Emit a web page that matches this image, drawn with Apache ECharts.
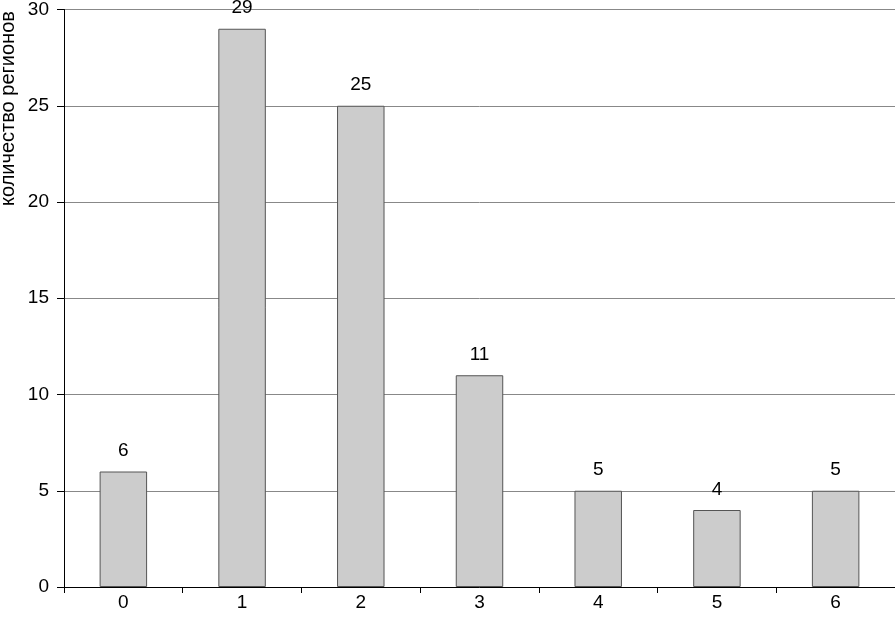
<!DOCTYPE html>
<html><head><meta charset="utf-8">
<script src="https://cdn.jsdelivr.net/npm/echarts@6/dist/echarts.min.js"></script>
<style>html,body{margin:0;padding:0;background:#fff}#c{width:895px;height:617px}</style>
</head><body><div id="c"></div>
<script>
const categories = ['0','1','2','3','4','5','6'];
const values = [6, 29, 25, 11, 5, 4, 5];
const yTitle = 'количество регионов';

const chart = echarts.init(document.getElementById('c'), null, {renderer:'canvas'});
const font = 'Liberation Sans, Arial, sans-serif';
chart.setOption({
  animation:false,
  grid:{left:64, right:0, top:9, bottom:30, containLabel:false},
  xAxis:{type:'category', data:categories,
    axisLine:{lineStyle:{color:'#000', width:1}},
    axisTick:{show:true, inside:false, length:6, lineStyle:{color:'#000'}},
    axisLabel:{color:'#000', fontSize:19, fontFamily:font, margin:6},
    splitLine:{show:false}},
  yAxis:{type:'value', min:0, max:30, interval:5,
    axisLine:{show:true, lineStyle:{color:'#000', width:1}},
    axisTick:{show:true, length:7, lineStyle:{color:'#000'}},
    axisLabel:{color:'#000', fontSize:19, fontFamily:font, margin:15},
    splitLine:{show:true, lineStyle:{color:'#888', width:1}}},
  graphic:[{type:'text', x:8, y:206, rotation:Math.PI/2,
    style:{text:yTitle, fontSize:20, fontFamily:font, fill:'#000', align:'left', verticalAlign:'middle'}}],
  series:[{type:'bar', data:values, barWidth:'40%',
    itemStyle:{color:'#cccccc', borderColor:'#555', borderWidth:1},
    label:{show:true, position:'top', distance:11, color:'#000', fontSize:19, fontFamily:font}}]
});
</script></body></html>
